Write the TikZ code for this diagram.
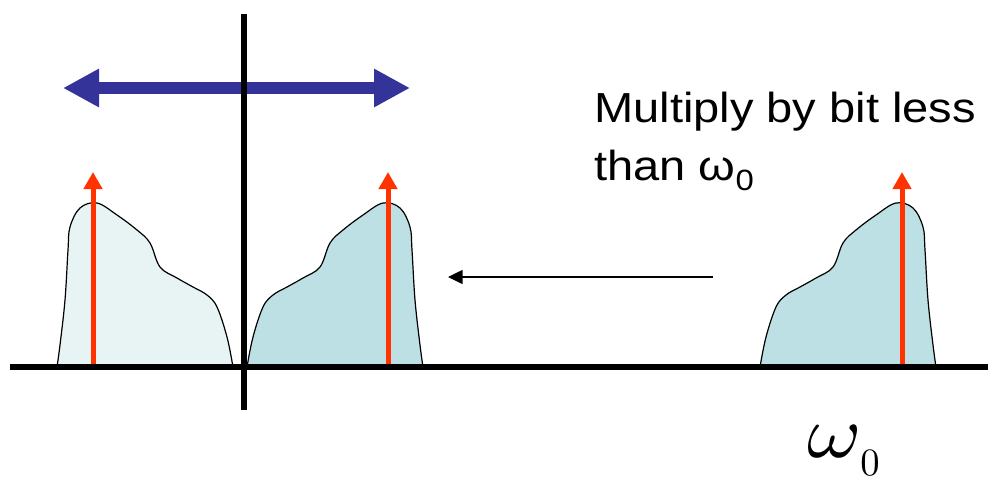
\documentclass[tikz,border=0pt]{standalone}
\usepackage{fontspec}
\newfontfamily\arial{Liberation Sans}
\usetikzlibrary{arrows.meta}
\definecolor{lobedark}{HTML}{BCE0E3}
\definecolor{lobelight}{HTML}{E8F4F4}
\definecolor{redarr}{HTML}{FF3300}
\definecolor{bluearr}{HTML}{333399}
\tikzset{
  lobeline/.style={draw=black,line width=0.9pt},
  axisline/.style={draw=black,line width=4pt},
  carrier/.style={draw=redarr,line width=3.75pt,-{Triangle[length=12.75pt,width=13.5pt]}},
  shiftarrow/.style={draw=bluearr,line width=9pt,{Triangle[length=27pt,width=27pt]}-{Triangle[length=27pt,width=27pt]}},
  movearrow/.style={draw=black,line width=1.1pt,-{Triangle[length=11pt,width=10.5pt]}},
  labeltext/.style={inner sep=0pt,anchor=base west,font=\arial\fontsize{31.5}{36}\selectfont},
  freqlabel/.style={inner sep=0pt,anchor=base west}
}
\newcommand{\lobecurve}{plot[smooth,tension=0.6] coordinates {(247,367) (253,337) (263,307) (273,295) (287,287) (303,278) (320,267) (330,243) (343,230) (363,215) (383,203) (400,208) (410,227) (412,250) (415,300) (420,345) (423,367)}}
\begin{document}
\begin{tikzpicture}[x=0.75pt,y=-0.75pt]
\useasboundingbox (0,0) rectangle (988,479);
% left mirrored lobe
\begin{scope}[shift={(480,0)},xscale=-1]
  \filldraw[lobeline,fill=lobelight] \lobecurve -- cycle;
\end{scope}
% middle lobe
\filldraw[lobeline,fill=lobedark] \lobecurve -- cycle;
% right lobe
\begin{scope}[shift={(513,0)}]
  \filldraw[lobeline,fill=lobedark] \lobecurve -- cycle;
\end{scope}
% carriers
\coordinate (c1a) at (93,367); \coordinate (c1b) at (93,172);
\coordinate (c2a) at (388,367); \coordinate (c2b) at (388,172);
\coordinate (c3a) at (902,367); \coordinate (c3b) at (902,172);
\draw[carrier] (c1a) -- (c1b);
\draw[carrier] (c2a) -- (c2b);
\draw[carrier] (c3a) -- (c3b);
% blue double arrow
\coordinate (bl) at (63,88); \coordinate (br) at (410,88);
\draw[shiftarrow] (bl) -- (br);
% axes
\coordinate (hx0) at (10,367); \coordinate (hx1) at (988,367);
\coordinate (vy0) at (244,14); \coordinate (vy1) at (244,410);
\draw[axisline] (hx0) -- (hx1);
\draw[axisline] (vy0) -- (vy1);
% move arrow
\coordinate (ms) at (713,277); \coordinate (me) at (448,277);
\draw[movearrow] (ms) -- (me);
% texts
\node[labeltext] (t1) at (594,122) {\scalebox{1.12}[1]{Multiply by bit less}};
\node[labeltext] (t2) at (594,180) {\scalebox{1.12}[1]{than ω\raisebox{-0.25em}{\fontsize{22}{24}\selectfont 0}}};
\node[freqlabel] (w0) at (807,457) {\scalebox{6.2}[5.56]{$\omega$}};
\node[freqlabel] (w0sub) at (860,475) {\scalebox{2.9}{$0$}};
\end{tikzpicture}
\end{document}
